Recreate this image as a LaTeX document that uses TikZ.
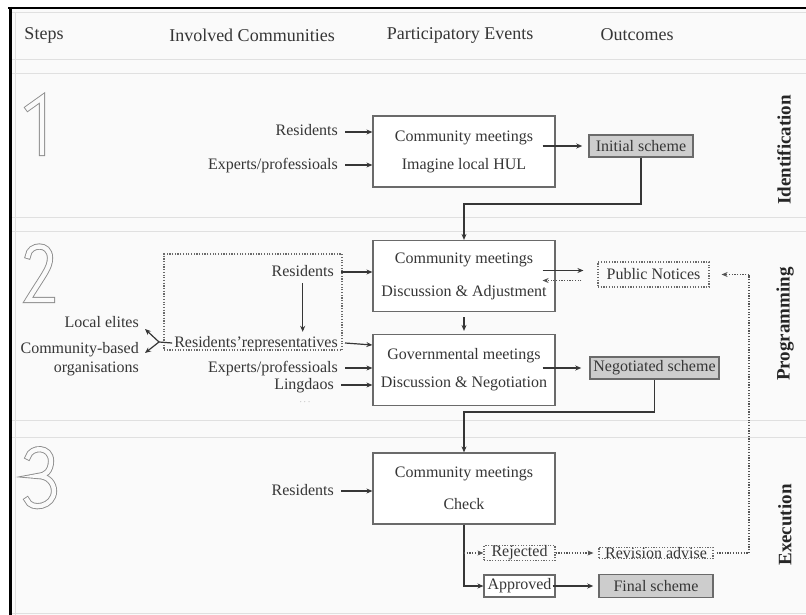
\documentclass[tikz,border=0pt]{standalone}
\usepackage{fontspec}
\setmainfont{Liberation Serif}
\usetikzlibrary{arrows.meta,calc}
\definecolor{ink}{HTML}{363636}
\definecolor{boxline}{HTML}{6A6A6A}
\definecolor{paper}{HTML}{FAFAFA}
\definecolor{rule}{HTML}{E0E0E0}
\definecolor{outfill}{HTML}{CDCDCD}
\definecolor{digit}{HTML}{8C8C8C}
\begin{document}
\begin{tikzpicture}[x=1pt,y=-1pt,
  txt/.style={font=\fontsize{16}{18}\selectfont, text=ink, inner sep=2pt, text height=11pt, text depth=3pt},
  head/.style={font=\fontsize{18}{20}\selectfont, text=ink, inner sep=0pt},
  phase/.style={font=\fontsize{19}{21}\selectfont\bfseries, text=black!85, rotate=90, inner sep=0pt},
  mbox/.style={draw=boxline, line width=1.2pt, fill=white, minimum width=182pt, minimum height=71pt,
    align=center, font=\fontsize{16}{18}\selectfont, text=ink, inner sep=0pt},
  outbox/.style={draw=boxline, line width=1.5pt, fill=outfill, inner sep=0pt, minimum height=22pt,
    font=\fontsize{16}{18}\selectfont, text=ink},
  plainbox/.style={draw=boxline, line width=1.1pt, fill=white, inner sep=0pt, minimum height=22pt,
    font=\fontsize{16}{18}\selectfont, text=ink},
  dotbox/.style={draw=boxline, line width=1.2pt, dash pattern=on 1.2pt off 1.5pt, inner sep=0pt,
    font=\fontsize{16}{18}\selectfont, text=ink},
  arr/.style={draw=ink, line width=1.2pt, -{Stealth[length=6pt,width=5pt]}},
  darr/.style={draw=ink!85, line width=1.1pt, dash pattern=on 1.2pt off 1.5pt, -{Stealth[length=6pt,width=5pt]}},
  dline/.style={draw=ink!85, line width=1.1pt, dash pattern=on 1.2pt off 1.5pt},
  sep/.style={draw=rule, line width=1pt},
  digitline/.style={draw=digit, line width=0.9pt, double=paper, double distance=4.4pt, line cap=rect, line join=miter}
]
\useasboundingbox (0,0) rectangle (806,615);

% page and frame
\fill[white] (0,0) rectangle (806,615);
\fill[paper] (10,8) rectangle (806,615);
\draw[sep] (12,13) -- (806,13);
\draw[sep] (15,13) -- (15,615);
\foreach \yy in {60,74,217,231,420,437,613} {\draw[sep] (12,\yy) -- (806,\yy);}
\draw[black, line width=2pt] (8,8) -- (806,8);
\draw[black, line width=3pt] (10,7) -- (10,615);

% column headings
\node[head] (hs) at (44,35) {Steps};
\node[head] (hc) at (252,35) {Involved Communities};
\node[head] (hp) at (460,35) {Participatory Events};
\node[head] (ho) at (637,35) {Outcomes};

% phase labels
\node[phase] (ph1) at (784,150) {Identification};
\node[phase] (ph2) at (785,324) {Programming};
\node[phase] (ph3) at (785,525) {Execution};

% step numerals (outlined)
\draw[digitline] (28,108) -- (42,98) -- (42,153);
\draw[digitline] (28,256) .. controls (29,244) and (50,242) .. (50,258)
  .. controls (50,268) and (44,274) .. (28,300) -- (52,300);
\draw[digitline] (28,457) .. controls (31,446) and (51,446) .. (51,461)
  .. controls (51,471) and (45,476) .. (38,476)
  .. controls (48,476) and (54,483) .. (54,491)
  .. controls (54,507) and (31,511) .. (27,500);

% ---------- step 1 ----------
\node[mbox] (m1) at (464,151.5) {Community meetings\\[10pt]Imagine local HUL};
\node[txt, anchor=east] (r1) at (340,132) {Residents};
\node[txt, anchor=east] (e1) at (340,165) {Experts/professioals};
\node[outbox, minimum width=104pt] (init) at (641,146) {Initial scheme};
\draw[arr] ([xshift=5pt]r1.east) -- (r1.east -| m1.west);
\draw[arr] ([xshift=5pt]e1.east) -- (e1.east -| m1.west);
\draw[arr, shorten >=6pt] ($(init.west -| m1.east)+(-13,0)$) -- (init.west);

% ---------- step 2 ----------
\node[mbox] (m2a) at (464,276) {Community meetings\\[15pt]Discussion \& Adjustment};
\node[mbox] (m2b) at (464,370) {Governmental meetings\\[10pt]Discussion \& Negotiation};
\node[dotbox, minimum width=178pt, minimum height=96pt] (grp) at (253,302) {};
\node[txt, anchor=east] (r2) at (336,272) {Residents};
\node[txt, anchor=east] (rr) at (340,343) {Residents’representatives};
\node[txt, anchor=east] (e2) at (340,368) {Experts/professioals};
\node[txt, anchor=east, inner sep=1pt] (ld) at (335,385) {Lingdaos};
\node[font=\fontsize{9}{9}\selectfont, text=ink!60, inner sep=0pt] (dots) at (305,402) {$\cdots$};
\node[txt, anchor=east] (le) at (141,323) {Local elites};
\node[txt, anchor=east, align=right, text height=, text depth=] (cb) at (141,359)
  {Community-based\\[1pt]organisations};
\node[dotbox, minimum width=111pt, minimum height=25pt] (pn) at (653.5,274.5) {Public Notices};
\node[outbox, minimum width=129pt] (neg) at (654.5,368) {Negotiated scheme};

\coordinate (k1) at (0,204);
\draw[arr] (init.south) |- (k1 -| m2a.north) -- (m2a.north);

\draw[arr] ([xshift=5pt]r2.east) -- (r2.east -| m2a.west);
\draw[arr, shorten <=2pt, shorten >=2pt] (r2.south) -- (r2.south |- rr.north);
\draw[arr] ([xshift=5pt]rr.east) -- ([yshift=-2pt]rr.east -| m2b.west);
\draw[arr] ([xshift=5pt]e2.east) -- (e2.east -| m2b.west);
\draw[arr] ([xshift=6pt]ld.east) -- (ld.east -| m2b.west);
\draw[arr, shorten <=5pt, shorten >=3pt] (m2a.south) -- (m2b.north);

\coordinate (fk) at (159,342);
\draw[draw=ink, line width=1.2pt] (rr.west) -- (fk);
\draw[arr] (fk) -- (145,329);
\draw[arr] (fk) -- (145,353);

\draw[arr] ($(m2a.east |- pn.west)+(-13,-4)$) -- ($(pn.west)+(-14,-4)$);
\draw[darr] ($(pn.west)+(-16,6)$) -- ($(m2a.east |- pn.west)+(-13,6)$);
\draw[arr, shorten >=8pt] ($(neg.west -| m2b.east)+(-13,0)$) -- (neg.west);

\coordinate (k2) at (0,412);

% ---------- step 3 ----------
\node[mbox] (m3) at (464,488.5) {Community meetings\\[14pt]Check};
\node[txt, anchor=east] (r3) at (336,491) {Residents};
\node[dotbox, minimum width=71pt] (rj) at (519.5,553) {Rejected};
\node[plainbox, minimum width=71pt] (ap) at (519.5,586) {Approved};
\node[dotbox, minimum width=114pt] (rv) at (656,553) {Revision advise};
\node[outbox, minimum width=114pt, minimum height=23pt] (fs) at (656,586) {Final scheme};

\draw[arr] (neg.south) |- (k2 -| m3.north) -- (m3.north);
\draw[arr] ([xshift=5pt]r3.east) -- (r3.east -| m3.west);
\draw[arr] (m3.south) |- (ap.west);
\draw[darr] (m3.south |- rj.west) -- (rj.west);
\draw[darr, shorten >=5pt] (rj.east) -- (rv.west);
\draw[arr, shorten >=5pt] ($(ap.east)+(-3,0)$) -- (fs.west);

\coordinate (k3) at (749,0);
\draw[dline] ([xshift=3pt]rv.east) -- (rv.east -| k3) -- (k3 |- pn.east);
\draw[darr, shorten >=12pt] (k3 |- pn.east) -- (pn.east);
\end{tikzpicture}
\end{document}
